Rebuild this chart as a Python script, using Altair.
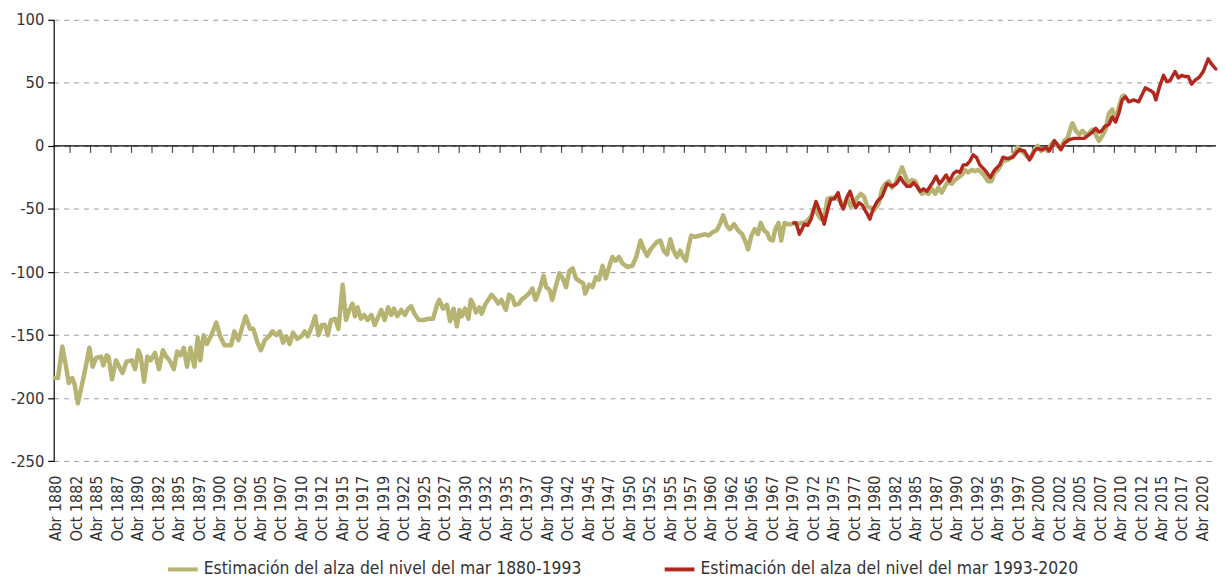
import altair as alt
import pandas as pd

# ---------------- data ----------------
olive_years = [
    1880.12, 1880.52, 1881.05, 1881.45, 1881.85, 1882.27, 1882.55, 1882.95, 1883.36, 1883.76,
    1884.36, 1884.76, 1885.18, 1885.78, 1886.06, 1886.46, 1886.70, 1887.12, 1887.60, 1888.00,
    1888.40, 1888.89, 1889.54, 1889.94, 1890.34, 1890.63, 1891.03, 1891.43, 1891.84, 1892.37,
    1892.85, 1893.33, 1893.73, 1894.15, 1894.67, 1895.07, 1895.48, 1895.88, 1896.28, 1896.69,
    1897.18, 1897.58, 1897.90, 1898.30, 1898.70, 1899.31, 1899.85, 1900.33, 1900.85, 1901.66,
    1902.06, 1902.55, 1902.95, 1903.43, 1903.97, 1904.37, 1904.89, 1905.30, 1905.78, 1906.27,
    1906.71, 1907.19, 1907.60, 1908.00, 1908.40, 1908.81, 1909.22, 1909.74, 1910.22, 1910.63,
    1911.03, 1911.52, 1911.92, 1912.33, 1912.73, 1913.13, 1913.46, 1913.86, 1914.34, 1914.76,
    1915.28, 1915.68, 1916.09, 1916.49, 1916.77, 1917.10, 1917.50, 1917.90, 1918.31, 1918.79,
    1919.19, 1919.52, 1920.00, 1920.40, 1920.82, 1921.22, 1921.54, 1921.94, 1922.43, 1922.87,
    1923.28, 1923.64, 1924.04, 1924.57, 1925.18, 1925.79, 1926.31, 1926.79, 1927.07, 1927.52,
    1928.00, 1928.40, 1928.81, 1929.22, 1929.54, 1929.82, 1930.22, 1930.64, 1930.92, 1931.24,
    1931.56, 1931.97, 1932.25, 1932.65, 1933.06, 1933.46, 1933.86, 1934.27, 1934.67, 1935.20,
    1935.60, 1936.00, 1936.29, 1936.82, 1937.10, 1937.50, 1938.03, 1938.43, 1938.83, 1939.32,
    1939.80, 1940.13, 1940.53, 1940.86, 1941.26, 1941.74, 1942.15, 1942.55, 1942.95, 1943.36,
    1943.76, 1944.17, 1944.65, 1944.89, 1945.38, 1945.79, 1946.19, 1946.59, 1947.00, 1947.40,
    1947.80, 1948.21, 1948.61, 1949.01, 1949.43, 1950.03, 1950.64, 1951.12, 1951.64, 1952.04,
    1952.45, 1952.86, 1953.26, 1953.67, 1954.07, 1954.47, 1954.88, 1955.28, 1955.68, 1956.09,
    1956.49, 1956.77, 1957.18, 1957.50, 1957.83, 1958.31, 1958.92, 1959.53, 1959.93, 1960.53,
    1960.94, 1961.34, 1961.74, 1962.15, 1962.55, 1963.07, 1963.56, 1964.05, 1964.46, 1964.77,
    1965.18, 1965.58, 1965.98, 1966.31, 1966.71, 1967.12, 1967.40, 1967.80, 1968.09, 1968.49,
    1968.82, 1969.22, 1969.62, 1970.03, 1970.44, 1970.84, 1971.25, 1971.65, 1972.05, 1972.46,
    1972.86, 1973.26, 1973.67, 1974.07, 1974.47, 1974.88, 1975.28, 1975.69, 1976.09, 1976.49,
    1976.90, 1977.30, 1977.71, 1978.11, 1978.52, 1978.92, 1979.32, 1979.73, 1980.14, 1980.75,
    1981.14, 1981.55, 1981.95, 1982.35, 1982.76, 1983.16, 1983.57, 1983.97, 1984.37, 1984.78,
    1985.19, 1985.59, 1985.99, 1986.40, 1986.80, 1987.20, 1987.61, 1988.01, 1988.41, 1988.82,
    1989.22, 1989.63, 1990.03, 1990.44, 1990.84, 1991.24, 1991.65, 1992.05, 1992.46, 1992.86,
    1993.27, 1993.67, 1994.07, 1994.48, 1994.88, 1995.28, 1995.89, 1996.50, 1997.10, 1997.71,
    1998.11, 1998.52, 1998.92, 1999.33, 1999.73, 2000.13, 2000.54, 2000.95, 2001.35, 2001.75,
    2002.16, 2002.56, 2002.97, 2003.37, 2003.78, 2004.18, 2004.38, 2004.79, 2005.19, 2005.60,
    2006.00, 2006.41, 2006.81, 2007.21, 2007.62, 2008.02, 2008.42, 2008.83, 2009.23, 2009.64,
    2010.04, 2010.44, 2010.68,
]
olive_values = [
    -184, -184, -159, -173, -188, -184, -189, -204, -192, -180,
    -160, -175, -168, -167, -174, -166, -167, -185, -170, -175,
    -180, -171, -170, -177, -162, -167, -187, -167, -170, -164,
    -177, -162, -167, -170, -177, -163, -166, -160, -175, -160,
    -175, -152, -170, -150, -157, -149, -140, -151, -158, -158,
    -147, -154, -145, -135, -145, -145, -156, -162, -154, -151,
    -147, -150, -147, -156, -151, -157, -148, -153, -151, -147,
    -151, -143, -135, -150, -142, -142, -150, -138, -137, -145,
    -110, -138, -130, -125, -135, -128, -137, -134, -138, -134,
    -142, -137, -130, -138, -128, -134, -129, -135, -130, -134,
    -129, -127, -133, -138, -138, -137, -137, -126, -122, -129,
    -126, -139, -129, -143, -130, -135, -129, -137, -122, -126,
    -132, -128, -133, -126, -122, -118, -121, -125, -122, -130,
    -118, -120, -126, -125, -122, -120, -117, -113, -122, -114,
    -103, -112, -114, -122, -112, -101, -105, -112, -99, -97,
    -105, -107, -109, -117, -110, -112, -104, -106, -95, -105,
    -96, -88, -91, -88, -93, -96, -95, -88, -75, -82,
    -87, -82, -79, -76, -75, -83, -86, -74, -83, -88,
    -83, -87, -91, -80, -71, -72, -71, -70, -71, -68,
    -67, -62, -55, -63, -66, -62, -67, -70, -76, -82,
    -71, -66, -70, -61, -67, -69, -74, -75, -66, -61,
    -75, -61, -62, -62, -61, -62, -61, -61, -59, -56,
    -49, -54, -58, -57, -42, -41, -41, -42, -44, -48,
    -41, -48, -45, -41, -38, -40, -48, -49, -51, -45,
    -34, -30, -28, -33, -30, -23, -17, -24, -30, -27,
    -28, -34, -38, -36, -38, -34, -38, -33, -37, -32,
    -28, -30, -27, -25, -23, -19, -21, -19, -20, -19,
    -21, -24, -28, -28, -21, -19, -12, -11, -8, -1,
    -4, -6, -9, -9, -3, 0, -4, -2, -4, 1,
    4, 0, -2, 4, 6, 15, 18, 12, 9, 12,
    9, 10, 13, 9, 4, 8, 13, 26, 29, 20,
    31, 39, 40,
]

red_years = [
    1970.35, 1970.64, 1971.04, 1971.65, 1972.05, 1972.46, 1973.06, 1973.67, 1974.07, 1974.55,
    1974.88, 1975.28, 1975.77, 1976.09, 1976.41, 1976.82, 1977.22, 1977.62, 1977.91, 1978.31,
    1978.71, 1979.24, 1979.64, 1980.04, 1980.53, 1981.14, 1981.74, 1982.35, 1982.88, 1983.36,
    1983.77, 1984.17, 1984.58, 1984.98, 1985.38, 1985.79, 1986.19, 1986.60, 1987.00, 1987.32,
    1987.73, 1988.13, 1988.53, 1988.95, 1989.35, 1989.83, 1990.23, 1990.64, 1991.04, 1991.45,
    1991.85, 1992.25, 1992.65, 1993.06, 1993.67, 1994.35, 1994.88, 1995.49, 1995.89, 1996.50,
    1997.10, 1997.51, 1997.92, 1998.52, 1999.13, 1999.73, 2000.13, 2000.66, 2001.14, 2001.55,
    2002.16, 2002.56, 2002.97, 2003.37, 2003.98, 2004.59, 2005.19, 2005.80, 2006.41, 2006.81,
    2007.21, 2007.62, 2007.94, 2008.34, 2008.83, 2009.23, 2009.64, 2010.04, 2010.44, 2010.85,
    2011.25, 2011.86, 2012.46, 2012.87, 2013.27, 2013.88, 2014.28, 2014.56, 2014.96, 2015.49,
    2015.89, 2016.30, 2016.90, 2017.31, 2017.71, 2018.11, 2018.52, 2018.92, 2019.33, 2019.93,
    2020.34, 2020.95, 2021.35, 2021.87,
]
red_values = [
    -61, -61, -70, -62, -63, -58, -44, -54, -62, -49,
    -42, -42, -37, -46, -50, -41, -36, -44, -49, -45,
    -47, -53, -58, -50, -44, -40, -30, -32, -30, -25,
    -29, -32, -32, -29, -32, -36, -34, -36, -32, -29,
    -24, -30, -27, -23, -28, -22, -20, -21, -15, -15,
    -12, -7, -9, -15, -19, -25, -19, -15, -9, -10,
    -9, -5.5, -3, -4, -11, -4, -2, -3, -1, -4,
    4, 1, -3, 2, 5, 6, 6, 6, 9, 11,
    14, 11, 12, 15.5, 17, 23, 19, 26, 36.5, 39,
    35, 36.5, 35, 40.5, 46, 44, 42, 36.5, 46, 56,
    51, 52, 59, 54, 56, 55, 55, 49, 52, 55,
    59, 69, 65, 61,
]

series_names = [
    "Estimación del alza del nivel del mar 1880-1993",
    "Estimación del alza del nivel del mar 1993-2020",
]
series_colors = ["#b7b373", "#b3281e"]

tick_labels = [
    "Abr 1880", "Oct 1882", "Abr 1885", "Oct 1887", "Abr 1890", "Oct 1892", "Abr 1895",
    "Oct 1897", "Abr 1900", "Oct 1902", "Abr 1905", "Oct 1907", "Abr 1910", "Oct 1912",
    "Abr 1915", "Oct 1917", "Abr 1919", "Oct 1922", "Abr 1925", "Oct 1927", "Abr 1930",
    "Oct 1932", "Abr 1935", "Oct 1937", "Abr 1940", "Oct 1942", "Abr 1945", "Oct 1947",
    "Abr 1950", "Oct 1952", "Abr 1955", "Oct 1957", "Abr 1960", "Oct 1962", "Abr 1965",
    "Oct 1967", "Abr 1970", "Oct 1972", "Abr 1975", "Oct 1977", "Abr 1980", "Oct 1982",
    "Abr 1985", "Oct 1987", "Abr 1990", "Oct 1992", "Abr 1995", "Oct 1997", "Abr 2000",
    "Oct 2002", "Abr 2005", "Oct 2007", "Abr 2010", "Oct 2012", "Abr 2015", "Oct 2017",
    "Abr 2020",
]
y_ticks = [100, 50, 0, -50, -100, -150, -200, -250]

# ---------------- build ----------------
FONT = "'DejaVu Sans Condensed', 'Liberation Sans Narrow', 'Roboto Condensed', sans-serif"
TEXT = "#333333"

label_years = [1880.25 + 2.5 * k for k in range(len(tick_labels))]
zero_tick_years = [1882.0 + 2.5 * k for k in range(56)]

df_olive = pd.DataFrame({"year": olive_years, "value": olive_values, "series": series_names[0]})
df_red = pd.DataFrame({"year": red_years, "value": red_values, "series": series_names[1]})
df_ticks = pd.DataFrame({"year": zero_tick_years})
df_zero = pd.DataFrame({"value": [0]})

label_array = "[" + ",".join("'" + t + "'" for t in tick_labels) + "]"

x_enc = alt.X(
    "year:Q",
    scale=alt.Scale(domain=[1880, 2021.9], nice=False, zero=False),
    axis=alt.Axis(
        values=label_years,
        labelExpr=label_array + "[round((datum.value - 1880.25) / 2.5)]",
        labelAngle=270,
        labelAlign="right",
        labelBaseline="middle",
        labelPadding=14,
        labelFontSize=16,
        labelFont=FONT,
        labelColor=TEXT,
        labelOverlap=False,
        labelFlush=False,
        labelBound=False,
        ticks=False,
        domain=False,
        grid=False,
        title="",
    ),
)

y_enc = alt.Y(
    "value:Q",
    scale=alt.Scale(domain=[-250, 100], nice=False, zero=False),
    axis=alt.Axis(
        values=y_ticks,
        labelExpr="datum.value + ''",
        grid=True,
        gridDash=[5, 5],
        gridColor="#9a9a9a",
        gridWidth=1,
        domainColor="#000000",
        domainWidth=1.2,
        tickColor="#000000",
        tickSize=6,
        tickWidth=1.2,
        labelPadding=4,
        labelFontSize=16.5,
        labelFont=FONT,
        labelColor=TEXT,
        title="",
    ),
)

color_enc = alt.Color(
    "series:N",
    scale=alt.Scale(domain=series_names, range=series_colors),
    legend=alt.Legend(
        orient="none",
        legendX=113,
        legendY=536,
        direction="horizontal",
        title=None,
        symbolType="stroke",
        symbolSize=900,
        symbolStrokeWidth=4,
        labelFontSize=17.5,
        labelFont=FONT,
        labelColor=TEXT,
        labelOffset=4,
        labelLimit=800,
        columnPadding=75,
    ),
)

zero_line = alt.Chart(df_zero).mark_rule(color="#000000", strokeWidth=1.3).encode(y=y_enc)

zero_ticks = alt.Chart(df_ticks).mark_tick(
    orient="vertical", size=7, thickness=1.2, color="#000000", yOffset=3.5
).encode(x=x_enc, y=alt.datum(0))

olive = alt.Chart(df_olive).mark_line(
    strokeWidth=4.5, strokeJoin="round", strokeCap="round"
).encode(x=x_enc, y=y_enc, color=color_enc)

red = alt.Chart(df_red).mark_line(
    strokeWidth=3.5, strokeJoin="round", strokeCap="round"
).encode(x=x_enc, y=y_enc, color=color_enc)

chart = (
    alt.layer(zero_line, zero_ticks, olive, red)
    .properties(
        width=1170,
        height=444.4,
        padding={"left": 46, "top": 10, "right": 2, "bottom": 116.6},
        autosize=alt.AutoSizeParams(type="none"),
        background="white",
    )
    .configure_view(strokeWidth=0)
)

chart.save("out.html", embed_options={"renderer": "svg", "actions": False})
